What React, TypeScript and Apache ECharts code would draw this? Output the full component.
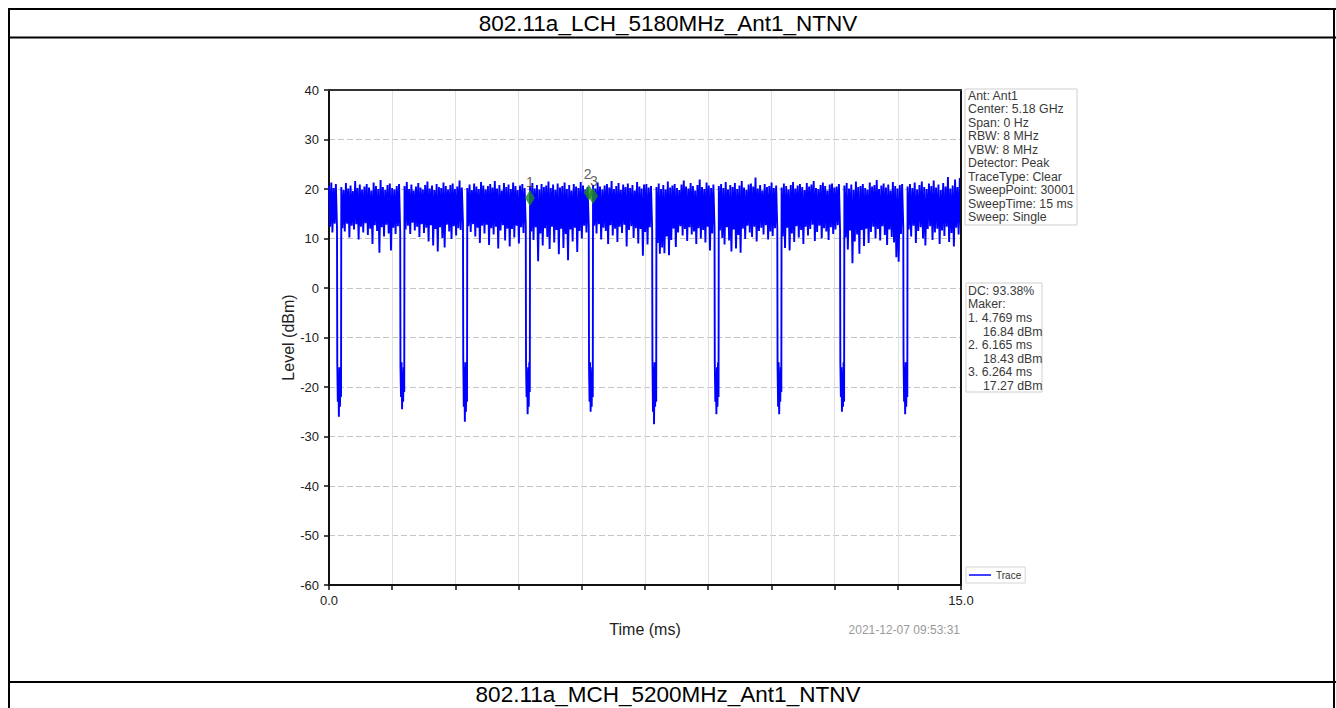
import React, { useEffect, useRef } from 'react';
import * as echarts from 'echarts';

const FONT = '"Liberation Sans", Arial, Helvetica, sans-serif';

const headerTitle = '802.11a_LCH_5180MHz_Ant1_NTNV';
const nextTitle = '802.11a_MCH_5200MHz_Ant1_NTNV';
const timestamp = '2021-12-07 09:53:31';

const sweepTimeMs = 15;
const xEdgeLabels = [0, 15];

// start of every off-period (ms) and its length
const gapStartMs = [0.19, 1.69, 3.18, 4.67, 6.165, 7.67, 9.15, 10.64, 12.13, 13.63];
const gapWidthMs = 0.102;

// burst envelopes, alternating upper / lower turning points (dBm)
const burst0 = [20.6, 12.4, 21.3, 11.2, 20.2, 13.0, 21.0, 12.1];
const burst1 = [20.4, 12.1, 19.8, 11.4, 21.2, 13.0, 20.1, 10.2, 20.7, 12.6, 19.6, 11.8, 21.6, 12.9, 20.2, 9.8, 20.9, 12.4, 19.9, 11.2, 20.5, 13.1, 21.0, 10.7, 20.3, 12.0, 19.7, 8.9, 21.3, 12.7, 20.6, 11.5, 20.0, 7.1, 21.8, 12.3, 20.4, 10.4, 19.8, 12.8, 20.8, 11.0, 21.1, 7.6, 20.2, 12.2, 19.9, 10.9, 20.6, 12.5, 21.0, 11.3];
const burst2 = [20.6, 11.8, 21.4, 12.6, 20.0, 10.9, 20.9, 13.2, 19.7, 11.6, 20.5, 12.4, 21.2, 10.3, 20.3, 12.9, 19.9, 11.1, 20.8, 12.2, 21.5, 9.4, 20.1, 12.7, 20.7, 8.6, 19.8, 11.9, 21.0, 7.4, 20.4, 12.3, 20.2, 10.1, 21.3, 8.2, 20.6, 12.8, 19.9, 11.4, 20.8, 9.9, 21.1, 12.5, 20.0, 10.6, 20.5, 12.1, 21.7, 11.7, 20.3, 13.0];
const burst3 = [20.2, 12.5, 20.9, 11.3, 19.8, 12.9, 21.1, 10.4, 20.5, 12.2, 20.0, 9.1, 21.4, 12.6, 20.7, 11.0, 19.9, 12.8, 20.6, 8.7, 21.0, 12.1, 20.3, 10.8, 21.6, 12.4, 20.1, 8.0, 20.8, 11.6, 19.7, 12.7, 21.2, 9.6, 20.4, 12.0, 20.9, 8.4, 20.0, 11.9, 21.3, 10.2, 20.6, 12.6, 19.8, 9.0, 20.7, 12.3, 21.0, 11.1, 20.2, 12.8];
const burst4 = [20.5, 11.4, 21.2, 9.7, 20.1, 12.3, 20.8, 5.4, 19.9, 11.0, 21.0, 8.6, 20.4, 12.1, 20.7, 10.3, 21.5, 7.9, 20.2, 12.4, 20.9, 9.2, 19.8, 11.7, 21.1, 6.8, 20.3, 12.0, 20.6, 8.1, 21.3, 10.9, 20.0, 5.6, 20.8, 11.8, 19.7, 9.4, 21.0, 12.2, 20.5, 7.3, 20.2, 11.5, 21.4, 10.0, 20.7, 12.6, 19.9, 11.2, 20.4, 12.4];
const burst5 = [20.8, 12.6, 20.1, 11.0, 21.3, 12.9, 20.5, 9.8, 19.9, 12.2, 20.7, 11.5, 21.0, 8.9, 20.3, 12.7, 21.6, 10.6, 20.0, 12.0, 20.6, 9.3, 21.2, 12.4, 19.8, 11.1, 20.9, 12.8, 20.4, 8.4, 21.1, 11.7, 20.2, 12.5, 20.8, 10.1, 19.7, 12.1, 21.4, 9.0, 20.5, 11.9, 20.1, 6.5, 20.9, 11.3, 21.0, 8.8, 20.3, 12.3, 20.6, 11.6];
const burst6 = [20.4, 9.1, 21.1, 6.9, 20.0, 8.2, 20.8, 7.0, 19.9, 10.4, 21.5, 6.6, 20.3, 9.7, 20.7, 12.0, 21.0, 8.3, 20.2, 11.2, 19.8, 12.5, 20.9, 10.6, 21.7, 11.9, 20.5, 9.5, 20.1, 12.3, 21.2, 10.8, 20.6, 11.4, 19.7, 8.9, 20.8, 12.1, 21.9, 10.0, 20.4, 11.7, 20.0, 9.2, 21.3, 12.4, 20.7, 7.6, 20.2, 11.0, 20.9, 12.2];
const burst7 = [20.6, 11.6, 21.0, 10.1, 20.2, 8.8, 21.4, 12.3, 19.9, 9.6, 20.8, 7.4, 20.4, 11.8, 21.2, 8.0, 20.0, 10.7, 20.7, 7.1, 21.6, 12.0, 20.3, 9.9, 19.8, 12.6, 20.9, 11.2, 21.1, 10.3, 20.5, 12.4, 22.3, 9.4, 20.1, 11.5, 20.8, 12.2, 19.7, 10.8, 21.0, 12.7, 20.4, 9.8, 20.6, 11.4, 21.3, 10.5, 20.2, 12.1, 20.7, 11.9];
const burst8 = [20.3, 10.4, 21.1, 8.1, 20.6, 12.2, 19.9, 7.6, 20.8, 11.0, 21.4, 9.3, 20.1, 12.5, 20.7, 10.2, 21.0, 11.7, 20.4, 8.9, 19.8, 12.4, 21.2, 10.6, 20.5, 11.9, 20.9, 12.8, 21.6, 9.5, 20.2, 11.3, 20.0, 12.6, 20.8, 10.0, 21.3, 12.1, 20.6, 11.4, 19.7, 9.7, 20.9, 12.3, 21.1, 10.9, 20.3, 11.8, 20.5, 12.7, 21.0, 11.5];
const burst9 = [20.7, 10.2, 21.2, 7.8, 20.1, 11.6, 20.9, 5.0, 19.8, 9.4, 21.5, 10.8, 20.4, 6.9, 20.6, 11.7, 21.0, 8.5, 20.2, 12.0, 19.9, 9.1, 21.3, 11.3, 20.5, 12.4, 20.8, 10.0, 21.8, 11.9, 20.0, 9.6, 20.7, 12.5, 21.1, 10.7, 20.3, 8.7, 20.9, 11.8, 19.7, 10.3, 21.4, 9.2, 20.6, 6.2, 20.1, 5.3, 20.8, 10.9, 21.0, 12.1];
const burst10 = [20.5, 11.8, 21.0, 10.4, 20.2, 12.6, 21.3, 9.1, 19.9, 11.5, 20.8, 12.3, 21.5, 10.0, 20.4, 8.6, 20.0, 11.9, 21.1, 12.5, 20.6, 9.7, 21.7, 11.2, 20.3, 12.0, 20.9, 8.9, 19.8, 11.6, 21.2, 10.5, 20.5, 12.4, 22.4, 9.3, 20.1, 11.1, 20.7, 8.4, 21.9, 12.2, 20.4, 10.8, 22.2, 11.7];

// levels inside each off-period (dBm)
const gapLevels = [
  [-15, -23, -17, -26, -16, -24, -18, -22],
  [-16, -22, -15, -24.5, -17, -23, -16, -21],
  [-14, -24, -16, -27, -15, -25, -17, -23],
  [-15, -22, -17, -25.5, -16, -24, -15, -21],
  [-16, -23, -15, -25, -17, -24, -16, -22],
  [-14, -25, -16, -27.5, -15, -24, -17, -23],
  [-15, -23, -17, -25.5, -16, -24, -15, -22],
  [-16, -24, -15, -25.5, -17, -23, -16, -21],
  [-15, -22, -16, -25, -17, -24, -15, -23],
  [-14, -23, -16, -25.5, -15, -24, -17, -22],
];

const markerNames = ['1', '2', '3'];
const markerTimesMs = [4.769, 6.165, 6.264];
const markerPlotLevels = [18.2, 19.3, 18.6];
const markerReadLevels = ['16.84', '18.43', '17.27'];

const settingLines = [
  'Ant: Ant1',
  'Center: 5.18 GHz',
  'Span: 0 Hz',
  'RBW: 8 MHz',
  'VBW: 8 MHz',
  'Detector: Peak',
  'TraceType: Clear',
  'SweepPoint: 30001',
  'SweepTime: 15 ms',
  'Sweep: Single',
];
const dutyCycleText = 'DC: 93.38%';
const makerHeader = 'Maker:';

function buildTrace(): [number, number][] {
  const bursts = [burst0, burst1, burst2, burst3, burst4, burst5, burst6, burst7, burst8, burst9, burst10];
  const pts: [number, number][] = [];
  let start = 0;
  bursts.forEach((b, i) => {
    const end = i < gapStartMs.length ? gapStartMs[i] : sweepTimeMs;
    const n = b.length;
    b.forEach((v, j) => pts.push([start + ((end - start) * j) / (n - 1), v]));
    if (i < gapStartMs.length) {
      const g = gapLevels[i];
      g.forEach((v, j) => pts.push([gapStartMs[i] + (gapWidthMs * (j + 0.5)) / g.length, v]));
      start = gapStartMs[i] + gapWidthMs;
    }
  });
  return pts;
}

function hline(x1: number, x2: number, y: number, w = 2) {
  return { type: 'line', shape: { x1, y1: y, x2, y2: y }, style: { stroke: '#000', lineWidth: w }, silent: true };
}
function vline(x: number, y1: number, y2: number, w = 2) {
  return { type: 'line', shape: { x1: x, y1, x2: x, y2 }, style: { stroke: '#000', lineWidth: w }, silent: true };
}
function txt(text: string, x: number, y: number, size: number, fill: string, align = 'left') {
  return {
    type: 'text',
    x,
    y,
    silent: true,
    style: { text, fill, fontSize: size, fontFamily: FONT, textAlign: align, textVerticalAlign: 'middle' },
  };
}

export default function App() {
  const ref = useRef<HTMLDivElement>(null);

  useEffect(() => {
    if (!ref.current) return;
    const chart = echarts.init(ref.current, undefined, { renderer: 'svg' });
    const trace = buildTrace();
    const markers = markerNames.map((n, i) => ({
      name: n,
      value: [markerTimesMs[i], markerPlotLevels[i]],
      label: { offset: i === 1 ? [-1, -2] : i === 2 ? [1, 1] : [0, 0] },
    }));

    const box2Lines: { t: string; indent: boolean }[] = [
      { t: dutyCycleText, indent: false },
      { t: makerHeader, indent: false },
    ];
    markerNames.forEach((n, i) => {
      box2Lines.push({ t: `${n}. ${markerTimesMs[i].toFixed(3)} ms`, indent: false });
      box2Lines.push({ t: `${markerReadLevels[i]} dBm`, indent: true });
    });

    const graphics: any[] = [
      hline(8, 1336, 9),
      vline(9, 8, 708),
      vline(1334, 8, 708),
      hline(8, 1336, 37.5),
      hline(8, 1336, 682),
      txt(headerTitle, 668, 23, 22.5, '#000', 'center'),
      txt(nextTitle, 668, 694.5, 22.5, '#000', 'center'),
      {
        type: 'rect',
        shape: { x: 965, y: 89, width: 112, height: 136 },
        style: { fill: '#fff', stroke: '#cfcfcf', lineWidth: 1 },
        silent: true,
      },
      ...settingLines.map((l, i) => txt(l, 968, 95.5 + i * 13.5, 12.3, '#3a3a3a')),
      {
        type: 'rect',
        shape: { x: 966, y: 283, width: 76, height: 109 },
        style: { fill: '#fff', stroke: '#cfcfcf', lineWidth: 1 },
        silent: true,
      },
      ...box2Lines.map((l, i) => txt(l.t, l.indent ? 983 : 968, 290.7 + i * 13.6, 12.3, '#3a3a3a')),
      txt(timestamp, 960, 630, 12, '#9a9a9a', 'right'),
    ];

    const frameAxis = {
      type: 'value',
      min: 0,
      max: sweepTimeMs,
      axisLine: { show: true, onZero: false, lineStyle: { color: '#333', width: 2 } },
      axisTick: { show: false },
      axisLabel: { show: false },
      splitLine: { show: false },
    };

    chart.setOption({
      animation: false,
      backgroundColor: '#fff',
      textStyle: { fontFamily: FONT },
      grid: {
        left: 329,
        top: 90,
        width: 632,
        height: 495,
        show: false,
      },
      legend: {
        left: 966,
        top: 567,
        data: ['Trace'],
        icon: 'rect',
        itemWidth: 22,
        itemHeight: 1.5,
        selectedMode: false,
        backgroundColor: '#fff',
        borderColor: '#d6d6d6',
        borderWidth: 1,
        padding: [3, 4, 3, 3],
        textStyle: { fontSize: 10, color: '#333', fontFamily: FONT },
      },
      xAxis: [
        {
          type: 'value',
          min: 0,
          max: sweepTimeMs,
          interval: 1.5,
          name: 'Time (ms)',
          nameLocation: 'middle',
          nameGap: 36,
          nameTextStyle: { fontSize: 16, color: '#222', fontFamily: FONT },
          axisLine: { onZero: false, lineStyle: { color: '#111', width: 2 } },
          axisTick: { show: true, length: 5, lineStyle: { color: '#111', width: 1.5 } },
          axisLabel: {
            margin: 9,
            fontSize: 13,
            color: '#222',
            showMinLabel: true,
            showMaxLabel: true,
            formatter: (v: number) => (xEdgeLabels.includes(v) ? v.toFixed(1) : ''),
          },
          splitLine: { show: true, lineStyle: { color: '#e0e0e0', width: 1 } },
          z: 1,
        },
        { ...frameAxis, position: 'top', z: 5 },
      ],
      yAxis: [
        {
          type: 'value',
          min: -60,
          max: 40,
          interval: 10,
          name: 'Level (dBm)',
          nameLocation: 'middle',
          nameGap: 20,
          nameTextStyle: { fontSize: 16, color: '#222', fontFamily: FONT },
          axisLine: { onZero: false, lineStyle: { color: '#111', width: 2 } },
          axisTick: { show: true, length: 5, lineStyle: { color: '#111', width: 1.5 } },
          axisLabel: { margin: 10, fontSize: 13, color: '#222' },
          splitLine: { show: true, lineStyle: { color: '#c4c4c4', width: 1, type: [6, 3] } },
          z: 1,
        },
        { ...frameAxis, min: -60, max: 40, position: 'right', axisLine: { show: true, onZero: false, lineStyle: { color: '#111', width: 2 } }, z: 5 },
      ],
      series: [
        {
          name: 'Trace',
          type: 'line',
          data: trace,
          showSymbol: false,
          symbol: 'none',
          lineStyle: { color: '#0000ff', width: 1.9 },
          itemStyle: { color: '#0000ff' },
          z: 2,
        },
        {
          name: 'Markers',
          type: 'scatter',
          data: markers,
          symbol: 'diamond',
          symbolSize: [10, 16],
          itemStyle: { color: '#1f8a1f' },
          label: {
            show: true,
            position: 'top',
            distance: 1,
            formatter: '{b}',
            fontSize: 14,
            color: '#333',
            fontFamily: FONT,
          },
          z: 3,
        },
      ],
      graphic: graphics,
    });

    return () => chart.dispose();
  }, []);

  return <div ref={ref} style={{ position: 'absolute', left: 0, top: 0, width: 1336, height: 708 }} />;
}
